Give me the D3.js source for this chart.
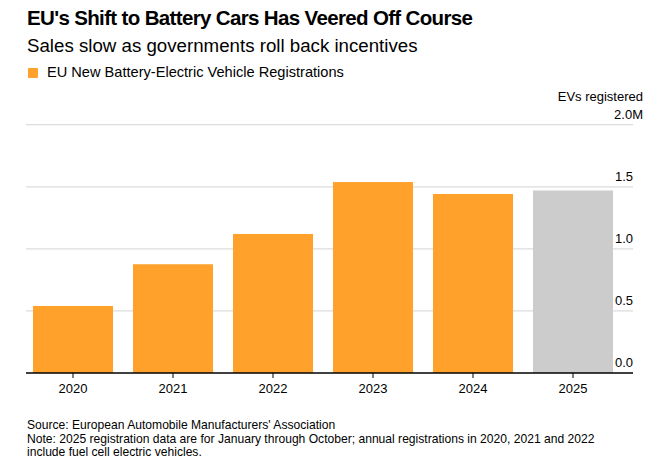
<!DOCTYPE html>
<html>
<head>
<meta charset="utf-8">
<script src="https://cdn.jsdelivr.net/npm/d3@7"></script>
<style>
  body { margin: 0; background: #fff; }
  text { font-family: "Liberation Sans", Arial, sans-serif; }
</style>
</head>
<body>
<script>
"use strict";

// registrations, millions (2025 = Jan-Oct)
var years = ["2020", "2021", "2022", "2023", "2024", "2025"];
var registrations = [0.54, 0.876, 1.12, 1.538, 1.442, 1.47];
var partial = [false, false, false, false, false, true];
var yTicks = [0, 0.5, 1.0, 1.5, 2.0];

var width = 669, height = 464;
var svg = d3.select("body").append("svg")
    .attr("width", width)
    .attr("height", height);

var x = d3.scaleBand().domain(years).range([23, 623]).paddingInner(0.2).paddingOuter(0.1);
var y = d3.scaleLinear().domain([0, 2]).range([373, 124.7]);

// titles
svg.append("text").attr("x", 27).attr("y", 25)
    .style("font-size", "20.5px").style("font-weight", "bold").style("fill", "#000")
    .style("letter-spacing", "-0.65px")
    .text("EU's Shift to Battery Cars Has Veered Off Course");
svg.append("text").attr("x", 27).attr("y", 52)
    .style("font-size", "18.7px").style("fill", "#000")
    .text("Sales slow as governments roll back incentives");

// legend
svg.append("rect").attr("x", 28).attr("y", 68).attr("width", 10).attr("height", 10)
    .attr("rx", 1).style("fill", "#ffa12b");
svg.append("text").attr("x", 47).attr("y", 77)
    .style("font-size", "14.6px").style("fill", "#000")
    .text("EU New Battery-Electric Vehicle Registrations");

// gridlines
svg.append("g").selectAll("line").data(yTicks.filter(function(d) { return d > 0; }))
  .join("line")
    .attr("x1", 26).attr("x2", 633)
    .attr("y1", function(d) { return y(d); })
    .attr("y2", function(d) { return y(d); })
    .style("stroke", "#dcdcdc").style("stroke-width", 1.3);

// bars
svg.append("g").selectAll("rect").data(years)
  .join("rect")
    .attr("x", function(d) { return x(d); })
    .attr("width", x.bandwidth())
    .attr("y", function(d, i) { return y(registrations[i]); })
    .attr("height", function(d, i) { return y(0) - y(registrations[i]); })
    .style("fill", function(d, i) { return partial[i] ? "#cccccc" : "#ffa12b"; });

// x axis
var xAxis = svg.append("g").attr("transform", "translate(0," + y(0) + ")")
    .call(d3.axisBottom(x).tickSize(5).tickPadding(6).tickSizeOuter(0));
xAxis.select(".domain").remove();
xAxis.insert("line", ":first-child").attr("x1", 26).attr("x2", 633)
    .style("stroke", "#000").style("stroke-width", 1.3);
xAxis.selectAll(".tick line").style("stroke", "#000");
xAxis.selectAll(".tick text")
    .style("font-size", "13px").style("fill", "#000")
    .style("font-family", "Liberation Sans, Arial, sans-serif");

// y labels
svg.append("g").selectAll("text").data(yTicks)
  .join("text")
    .attr("x", function(d) { return d === 2 ? 643 : 633; })
    .attr("y", function(d) { return y(d) - 6; })
    .attr("text-anchor", "end")
    .style("font-size", "13px").style("fill", "#000")
    .text(function(d) { return d3.format(".1f")(d) + (d === 2 ? "M" : ""); });
svg.append("text").attr("x", 643).attr("y", 101)
    .attr("text-anchor", "end")
    .style("font-size", "13px").style("fill", "#000")
    .text("EVs registered");

// footer
var notes = [
  "Source: European Automobile Manufacturers' Association",
  "Note: 2025 registration data are for January through October; annual registrations in 2020, 2021 and 2022",
  "include fuel cell electric vehicles."
];
svg.append("g").selectAll("text").data(notes)
  .join("text")
    .attr("x", 27)
    .attr("y", function(d, i) { return 429 + i * 13.5; })
    .style("font-size", "12.1px").style("fill", "#000")
    .text(function(d) { return d; });
</script>
</body>
</html>
